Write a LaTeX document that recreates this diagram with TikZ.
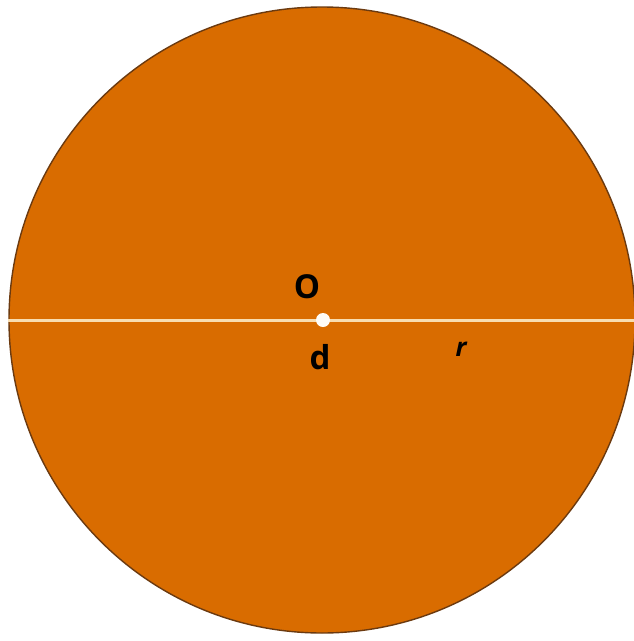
\documentclass[tikz,border=0pt]{standalone}
\usepackage{fontspec}
\setmainfont{Open Sans}
\definecolor{discfill}{HTML}{D96C00}
\definecolor{discedge}{HTML}{6B3A10}
\definecolor{linecol}{HTML}{F8DDB0}
\begin{document}
\begin{tikzpicture}[x=1pt,y=-1pt,
  lbl/.style={inner sep=0pt, text=black, font=\fontsize{33}{33}\selectfont\bfseries}]
\useasboundingbox (0,0) rectangle (634,641);
\begin{scope}
\clip (0,0) rectangle (634,641);
\node[circle, minimum size=626pt, inner sep=0pt, fill=discfill, draw=discedge, line width=1.4pt] (disc) at (322,320) {};
\draw[linecol, line width=3pt] (disc.west) -- (disc.east);
\end{scope}
\node[circle, fill=white!90!linecol, minimum size=14pt, inner sep=0pt] (ctr) at (323,320) {};
\node[lbl] (O) at (307,287) {O};
\node[lbl] (d) at (320,357) {d};
\node[lbl, font=\fontsize{26}{26}\selectfont\bfseries\itshape] (r) at (461,349) {r};
\end{tikzpicture}
\end{document}
